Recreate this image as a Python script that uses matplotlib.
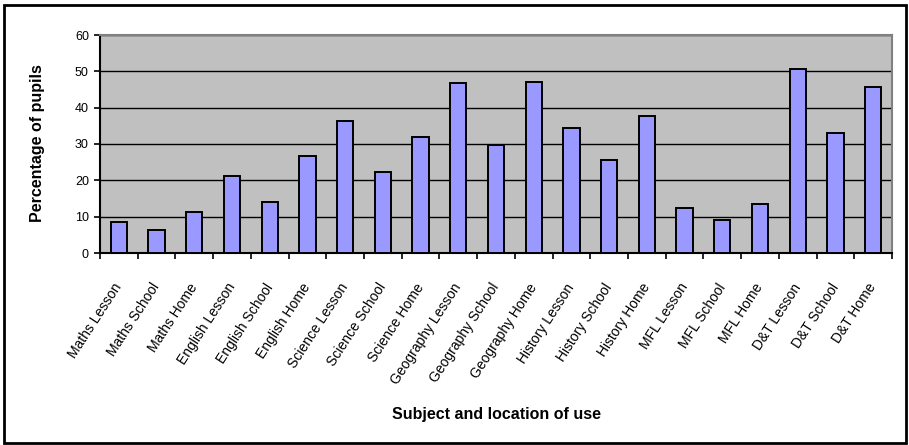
import matplotlib.pyplot as plt
from matplotlib.patches import Rectangle
import numpy as np

plt.rcParams['font.family'] = ['Liberation Sans', 'DejaVu Sans']

# subject / location categories and percentages
categories = [
    "Maths Lesson", "Maths School", "Maths Home",
    "English Lesson", "English School", "English Home",
    "Science Lesson", "Science School", "Science Home",
    "Geography Lesson", "Geography School", "Geography Home",
    "History Lesson", "History School", "History Home",
    "MFL Lesson", "MFL School", "MFL Home",
    "D&T Lesson", "D&T School", "D&T Home",
]
percentages = [
    8.5, 6.3, 11.3,
    21.3, 14.1, 26.8,
    36.2, 22.4, 31.8,
    46.8, 29.6, 47.2,
    34.5, 25.7, 37.8,
    12.4, 9.1, 13.6,
    50.6, 32.9, 45.6,
]
y_ticks = [0, 10, 20, 30, 40, 50, 60]

fig = plt.figure(figsize=(9.09, 4.45), dpi=100)
ax = fig.add_axes([100 / 909, 1 - 253 / 445, 792 / 909, 218 / 445])

# outer chart border
fig.patches.append(Rectangle((4 / 909, 1 - 443 / 445), 902 / 909, 438 / 445,
                             transform=fig.transFigure, fill=False,
                             edgecolor="black", linewidth=2))

x = np.arange(len(categories))
ax.set_facecolor("#C0C0C0")
ax.bar(x, percentages, width=0.43, color="#9999FF", edgecolor="black",
       linewidth=1.4, zorder=3)

ax.set_xlim(-0.5, len(categories) - 0.5)
ax.set_ylim(0, 60)
ax.set_yticks(y_ticks)
ax.yaxis.grid(True, color="black", linewidth=1, zorder=1)
ax.set_axisbelow(True)

# ticks between categories, labels under each bar
ax.set_xticks(np.arange(len(categories) + 1) - 0.5)
ax.set_xticklabels([])
ax.set_xticks(x - 0.15, minor=True)
ax.set_xticklabels(categories, minor=True, rotation=57, ha="right", va="top",
                   rotation_mode="anchor", fontsize=10, fontstretch="condensed")
ax.tick_params(axis="x", which="major", length=4, width=1.2, direction="out")
ax.tick_params(axis="x", which="minor", length=0, pad=20)
ax.tick_params(axis="y", length=4, width=1.2, direction="out", labelsize=9,
               pad=4)

for side in ["top", "right"]:
    ax.spines[side].set_color("#808080")
    ax.spines[side].set_linewidth(1.5)
for side in ["left", "bottom"]:
    ax.spines[side].set_color("black")
    ax.spines[side].set_linewidth(1.5)

fig.text(38 / 909, 1 - 143 / 445, "Percentage of pupils", rotation=90,
         ha="center", va="center", fontsize=11.5, fontweight="bold")
fig.text(497 / 909, 1 - 415 / 445, "Subject and location of use",
         ha="center", va="center", fontsize=11.5, fontweight="bold")

fig.savefig("out.png", dpi=100)
